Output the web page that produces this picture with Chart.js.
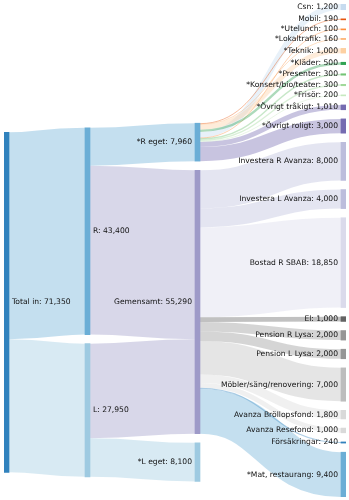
<!DOCTYPE html>
<html>
<head>
<meta charset="utf-8">
<script src="https://cdn.jsdelivr.net/npm/chart.js@4/dist/chart.umd.min.js"></script>
<style>
  html, body { margin: 0; padding: 0; background: #fff; }
</style>
</head>
<body>
<canvas id="budgetChart" width="349" height="500"></canvas>
<script>
// Nodes of the budget flow, in the order they are stacked
const nodeNames = [
    'Total in', 'R', 'L', '*R eget', 'Gemensamt', '*L eget',
    'Csn', 'Mobil', '*Utelunch', '*Lokaltrafik', '*Teknik', '*Kläder', '*Presenter',
    '*Konsert/bio/teater', '*Frisör', '*Övrigt tråkigt', '*Övrigt roligt',
    'Investera R Avanza', 'Investera L Avanza', 'Bostad R SBAB', 'El',
    'Pension R Lysa', 'Pension L Lysa', 'Möbler/säng/renovering',
    'Avanza Bröllopsfond', 'Avanza Resefond', 'Försäkringar', '*Mat, restaurang'
];

const nodeColors = [
    '#3182bd', '#6baed6', '#9ecae1', '#6baed6', '#9e9ac8', '#9ecae1',
    '#c6dbef', '#e6550d', '#fd8d3c', '#fdae6b', '#fdd0a2', '#31a354', '#74c476',
    '#a1d99b', '#c7e9c0', '#756bb1', '#756bb1',
    '#bcbddc', '#bcbddc', '#dadaeb', '#636363',
    '#969696', '#969696', '#bdbdbd',
    '#d9d9d9', '#d9d9d9', '#3182bd', '#6baed6'
];

// Money flows: from -> to, amount
const linkFrom = [
    'Total in', 'Total in', 'R', 'R', 'L', 'L',
    '*R eget', '*R eget', '*R eget', '*R eget', '*R eget', '*R eget',
    '*R eget', '*R eget', '*R eget', '*R eget', '*R eget',
    'Gemensamt', 'Gemensamt', 'Gemensamt', 'Gemensamt', 'Gemensamt', 'Gemensamt',
    'Gemensamt', 'Gemensamt', 'Gemensamt', 'Gemensamt', 'Gemensamt'
];
const linkTo = [
    'R', 'L', '*R eget', 'Gemensamt', 'Gemensamt', '*L eget',
    'Csn', 'Mobil', '*Utelunch', '*Lokaltrafik', '*Teknik', '*Kläder',
    '*Presenter', '*Konsert/bio/teater', '*Frisör', '*Övrigt tråkigt', '*Övrigt roligt',
    'Investera R Avanza', 'Investera L Avanza', 'Bostad R SBAB', 'El', 'Pension R Lysa',
    'Pension L Lysa', 'Möbler/säng/renovering', 'Avanza Bröllopsfond', 'Avanza Resefond',
    'Försäkringar', '*Mat, restaurang'
];
const linkValues = [
    43400, 27950, 7960, 35440, 19850, 8100,
    1200, 190, 100, 160, 1000, 500,
    300, 300, 200, 1010, 3000,
    8000, 4000, 18850, 1000, 2000,
    2000, 7000, 1800, 1000,
    240, 9400
];

// layout settings (x in px-sized units, padding in value units)
const columnX = [0, 81, 191, 337];
const nodeWidth = 5;
const nodePadding = 1915;
const iterations = 1;
const linkOpacity = 0.4;

function sumValues(items) {
    return items.reduce((s, l) => s + l.value, 0);
}

// sankey layout (nodes keep their given order), worked out in value units
function computeLayout() {
    const nodes = nodeNames.map((name, i) => ({
        index: i, name: name, color: nodeColors[i], sourceLinks: [], targetLinks: [], layer: 0
    }));
    const byName = {};
    nodes.forEach(n => { byName[n.name] = n; });

    const links = linkValues.map((value, i) => {
        const link = { index: i, source: byName[linkFrom[i]], target: byName[linkTo[i]], value: value, width: value };
        link.source.sourceLinks.push(link);
        link.target.targetLinks.push(link);
        return link;
    });

    nodes.forEach(n => {
        n.value = Math.max(sumValues(n.sourceLinks), sumValues(n.targetLinks));
    });

    // left aligned layers
    let changed = true;
    while (changed) {
        changed = false;
        links.forEach(l => {
            if (l.target.layer < l.source.layer + 1) {
                l.target.layer = l.source.layer + 1;
                changed = true;
            }
        });
    }

    const columns = [];
    nodes.forEach(n => {
        (columns[n.layer] = columns[n.layer] || []).push(n);
    });

    const top = 0;
    const bottom = Math.max(...columns.map(c => sumValues(c) + (c.length - 1) * nodePadding));

    const ascendingBreadth = (a, b) => a.y0 - b.y0;
    const ascendingSourceBreadth = (a, b) => ascendingBreadth(a.source, b.source) || a.index - b.index;
    const ascendingTargetBreadth = (a, b) => ascendingBreadth(a.target, b.target) || a.index - b.index;

    function reorderLinks(col) {
        col.forEach(n => {
            n.sourceLinks.sort(ascendingTargetBreadth);
            n.targetLinks.sort(ascendingSourceBreadth);
        });
    }

    function reorderNodeLinks(node) {
        node.targetLinks.forEach(l => l.source.sourceLinks.sort(ascendingTargetBreadth));
        node.sourceLinks.forEach(l => l.target.targetLinks.sort(ascendingSourceBreadth));
    }

    // top of the target that would make the link run straight
    function targetTop(source, target) {
        let y = source.y0 - (source.sourceLinks.length - 1) * nodePadding / 2;
        for (const l of source.sourceLinks) {
            if (l.target === target) break;
            y += l.width + nodePadding;
        }
        for (const l of target.targetLinks) {
            if (l.source === source) break;
            y -= l.width;
        }
        return y;
    }

    // top of the source that would make the link run straight
    function sourceTop(source, target) {
        let y = target.y0 - (target.targetLinks.length - 1) * nodePadding / 2;
        for (const l of target.targetLinks) {
            if (l.source === source) break;
            y += l.width + nodePadding;
        }
        for (const l of source.sourceLinks) {
            if (l.target === target) break;
            y -= l.width;
        }
        return y;
    }

    function pushDown(col, y, i, alpha) {
        for (; i < col.length; ++i) {
            const n = col[i];
            const dy = (y - n.y0) * alpha;
            if (dy > 1e-6) { n.y0 += dy; n.y1 += dy; }
            y = n.y1 + nodePadding;
        }
    }

    function pushUp(col, y, i, alpha) {
        for (; i >= 0; --i) {
            const n = col[i];
            const dy = (n.y1 - y) * alpha;
            if (dy > 1e-6) { n.y0 -= dy; n.y1 -= dy; }
            y = n.y0 - nodePadding;
        }
    }

    function resolveCollisions(col, alpha) {
        const i = col.length >> 1;
        const subject = col[i];
        pushUp(col, subject.y0 - nodePadding, i - 1, alpha);
        pushDown(col, subject.y1 + nodePadding, i + 1, alpha);
        pushUp(col, bottom, col.length - 1, alpha);
        pushDown(col, top, 0, alpha);
    }

    // spread every column evenly to start with
    columns.forEach(col => {
        let y = top;
        col.forEach(n => {
            n.y0 = y;
            n.y1 = y + n.value;
            y = n.y1 + nodePadding;
        });
        const off = (bottom - y + nodePadding) / (col.length + 1);
        col.forEach((n, i) => {
            n.y0 += off * (i + 1);
            n.y1 += off * (i + 1);
        });
        reorderLinks(col);
    });

    for (let it = 0; it < iterations; ++it) {
        const alpha = Math.pow(0.99, it);
        const beta = Math.max(1 - alpha, (it + 1) / iterations);

        for (let c = columns.length - 2; c >= 0; --c) {
            const col = columns[c];
            col.forEach(source => {
                let y = 0, w = 0;
                source.sourceLinks.forEach(l => {
                    const v = l.value * (l.target.layer - source.layer);
                    y += sourceTop(source, l.target) * v;
                    w += v;
                });
                if (!(w > 0)) return;
                const dy = (y / w - source.y0) * alpha;
                source.y0 += dy;
                source.y1 += dy;
                reorderNodeLinks(source);
            });
            resolveCollisions(col, beta);
        }

        for (let c = 1; c < columns.length; ++c) {
            const col = columns[c];
            col.forEach(target => {
                let y = 0, w = 0;
                target.targetLinks.forEach(l => {
                    const v = l.value * (target.layer - l.source.layer);
                    y += targetTop(l.source, target) * v;
                    w += v;
                });
                if (!(w > 0)) return;
                const dy = (y / w - target.y0) * alpha;
                target.y0 += dy;
                target.y1 += dy;
                reorderNodeLinks(target);
            });
            resolveCollisions(col, beta);
        }
    }

    // where each link leaves and enters its nodes
    nodes.forEach(n => {
        let ys = n.y0, yt = n.y0;
        n.sourceLinks.forEach(l => { l.y0 = ys + l.width / 2; ys += l.width; });
        n.targetLinks.forEach(l => { l.y1 = yt + l.width / 2; yt += l.width; });
    });

    return { nodes: nodes, links: links, bottom: bottom };
}

const layout = computeLayout();

function hexToRgba(hex, a) {
    const v = parseInt(hex.slice(1), 16);
    return `rgba(${(v >> 16) & 255}, ${(v >> 8) & 255}, ${v & 255}, ${a})`;
}

const sankeyPlugin = {
    id: 'sankeyLinks',
    beforeDatasetsDraw(chart) {
        const { ctx, scales: { x, y } } = chart;
        ctx.save();
        layout.links.forEach(link => {
            const xs = x.getPixelForValue(columnX[link.source.layer] + nodeWidth);
            const xt = x.getPixelForValue(columnX[link.target.layer]);
            const ys = y.getPixelForValue(link.y0);
            const yt = y.getPixelForValue(link.y1);
            const w = Math.abs(y.getPixelForValue(link.width) - y.getPixelForValue(0));
            const xm = (xs + xt) / 2;
            ctx.beginPath();
            ctx.moveTo(xs, ys);
            ctx.bezierCurveTo(xm, ys, xm, yt, xt, yt);
            ctx.strokeStyle = hexToRgba(link.target.color, linkOpacity);
            ctx.lineWidth = Math.max(1, w);
            ctx.stroke();
        });
        ctx.restore();
    },
    afterDatasetsDraw(chart) {
        const { ctx, scales: { x, y } } = chart;
        ctx.save();
        ctx.font = '7.6px "DejaVu Sans"';
        ctx.fillStyle = '#111';
        ctx.textBaseline = 'middle';
        layout.nodes.forEach(n => {
            const text = `${n.name}: ${n.value.toLocaleString('en-US')}`;
            const ym = y.getPixelForValue((n.y0 + n.y1) / 2);
            if (n.layer < 2) {
                ctx.textAlign = 'left';
                ctx.fillText(text, x.getPixelForValue(columnX[n.layer] + nodeWidth) + 3, ym);
            } else {
                ctx.textAlign = 'right';
                ctx.fillText(text, x.getPixelForValue(columnX[n.layer]) - 3, ym);
            }
        });
        ctx.restore();
    }
};

new Chart(document.getElementById('budgetChart'), {
    type: 'bar',
    data: {
        datasets: [{
            data: layout.nodes.map(n => ({ x: columnX[n.layer] + nodeWidth / 2, y: [n.y0, n.y1] })),
            backgroundColor: layout.nodes.map(n => n.color),
            borderWidth: 0,
            barThickness: nodeWidth,
            minBarLength: 1,
            grouped: false
        }]
    },
    options: {
        responsive: false,
        animation: false,
        devicePixelRatio: 1,
        layout: { padding: { left: 4, right: 3, top: 4, bottom: 3 } },
        scales: {
            x: { type: 'linear', min: 0, max: 342, offset: false, display: false },
            y: { type: 'linear', min: 0, max: layout.bottom, reverse: true, display: false }
        },
        plugins: {
            legend: { display: false },
            tooltip: { enabled: false }
        }
    },
    plugins: [sankeyPlugin]
});
</script>
</body>
</html>
